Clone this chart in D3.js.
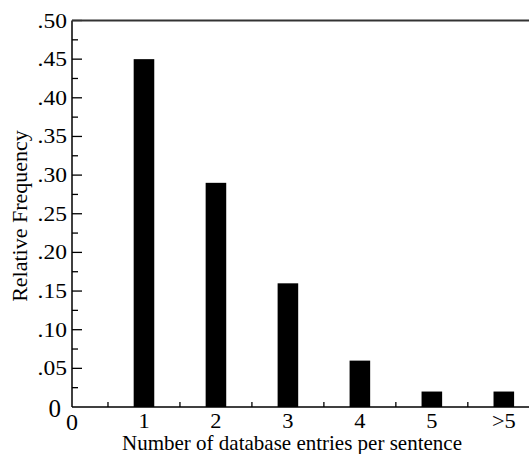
<!DOCTYPE html>
<html>
<head>
<meta charset="utf-8">
<script src="https://cdn.jsdelivr.net/npm/d3@7"></script>
<style>
  body { margin: 0; background: #fff; }
  svg text { font-family: "Liberation Serif", "DejaVu Serif", serif; fill: #000; }
</style>
</head>
<body>
<svg id="chart" width="529" height="454"></svg>
<script>
// data
const categories = ["1", "2", "3", "4", "5", ">5"];
const positions = [1, 2, 3, 4, 5, 6];
const frequencies = [0.45, 0.29, 0.16, 0.06, 0.02, 0.02];
const yTickValues = [0.05, 0.10, 0.15, 0.20, 0.25, 0.30, 0.35, 0.40, 0.45, 0.50];
const yTickLabels = [".05", ".10", ".15", ".20", ".25", ".30", ".35", ".40", ".45", ".50"];

const W = 529, H = 454;
const plotLeft = 72, plotTop = 20.5, plotBottom = 407;

let svg = d3.select('#chart');

let x = d3.scaleLinear().domain([0, 6.35]).range([plotLeft, W]);
let y = d3.scaleLinear().domain([0, 0.5]).range([plotBottom, plotTop]);

const barHalf = 0.143;

// bars
svg.append('g').selectAll('rect')
    .data(frequencies)
    .enter().append('rect')
    .attr('x', (d, i) => x(positions[i] - barHalf))
    .attr('width', 2 * (x(barHalf) - x(0)))
    .attr('y', d => y(d))
    .attr('height', d => y(0) - y(d))
    .attr('fill', '#000');

// y ticks (inward), major and minor
let yMinor = d3.range(0.025, 0.5, 0.05);
svg.append('g').selectAll('line')
    .data(yMinor).enter().append('line')
    .attr('x1', plotLeft).attr('x2', plotLeft + 6)
    .attr('y1', d => y(d)).attr('y2', d => y(d))
    .attr('stroke', '#000').attr('stroke-width', 1.3);
svg.append('g').selectAll('line')
    .data(yTickValues).enter().append('line')
    .attr('x1', plotLeft).attr('x2', plotLeft + 10)
    .attr('y1', d => y(d)).attr('y2', d => y(d))
    .attr('stroke', '#000').attr('stroke-width', 1.3);

// y labels, slightly wide glyphs like the original
svg.append('g').selectAll('text')
    .data(yTickValues).enter().append('text')
    .attr('transform', d => `translate(${plotLeft - 5},${y(d) + 7}) scale(1.12,1)`)
    .attr('text-anchor', 'end')
    .attr('font-size', 21)
    .text((d, i) => yTickLabels[i]);

// x ticks (inward)
let xMinor = d3.range(0.5, 6.5, 1);
svg.append('g').selectAll('line')
    .data(xMinor).enter().append('line')
    .attr('x1', d => x(d)).attr('x2', d => x(d))
    .attr('y1', plotBottom).attr('y2', plotBottom - 5)
    .attr('stroke', '#000').attr('stroke-width', 1.3);
svg.append('g').selectAll('line')
    .data(positions).enter().append('line')
    .attr('x1', d => x(d)).attr('x2', d => x(d))
    .attr('y1', plotBottom).attr('y2', plotBottom - 10)
    .attr('stroke', '#000').attr('stroke-width', 1.3);

svg.append('g').selectAll('text')
    .data(categories).enter().append('text')
    .attr('transform', (d, i) => `translate(${x(positions[i])},${plotBottom + 21}) scale(1.12,1)`)
    .attr('text-anchor', 'middle')
    .attr('font-size', 20)
    .text(d => d);

// origin labels
svg.append('text').attr('x', plotLeft - 11).attr('y', plotBottom + 10)
    .attr('text-anchor', 'end').attr('font-size', 25).text('0');
svg.append('text').attr('x', x(0)).attr('y', plotBottom + 23)
    .attr('text-anchor', 'middle').attr('font-size', 24).text('0');

// frame: left, bottom, top
svg.append('line').attr('x1', plotLeft).attr('x2', plotLeft).attr('y1', plotTop).attr('y2', plotBottom)
    .attr('stroke', '#000').attr('stroke-width', 1.5);
svg.append('line').attr('x1', plotLeft).attr('x2', W).attr('y1', plotBottom).attr('y2', plotBottom)
    .attr('stroke', '#000').attr('stroke-width', 1.5);
svg.append('line').attr('x1', plotLeft).attr('x2', W).attr('y1', plotTop).attr('y2', plotTop)
    .attr('stroke', '#333').attr('stroke-width', 1.8);

// axis titles
svg.append('text')
    .attr('x', 292).attr('y', 450)
    .attr('text-anchor', 'middle')
    .attr('font-size', 21)
    .text('Number of database entries per sentence');
svg.append('text')
    .attr('transform', 'translate(27,216) rotate(-90)')
    .attr('text-anchor', 'middle')
    .attr('font-size', 22)
    .text('Relative Frequency');
</script>
</body>
</html>
